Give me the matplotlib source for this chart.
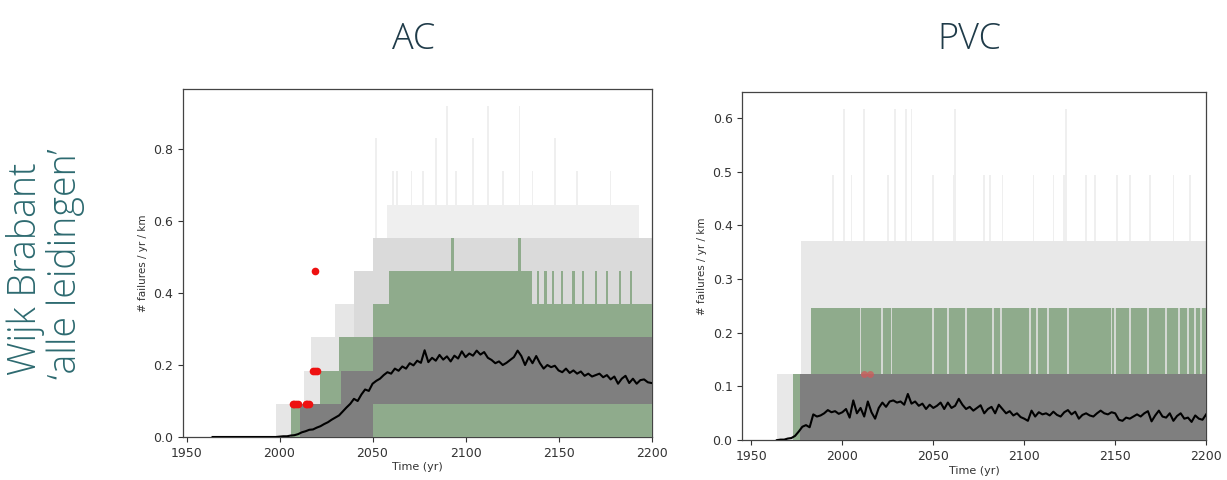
import numpy as np
import matplotlib
matplotlib.use("Agg")
import matplotlib.pyplot as plt

# ---------------- data ----------------
# quantised failure levels
ac_q = 0.0922
pvc_q = 0.1234

# AC mean line (every 2 years, 1964-2200)
ac_mean_years = list(range(1964, 2201, 2))
ac_mean = [0.0] * 18 + [
    0.001, 0.002, 0.002, 0.004, 0.005, 0.008, 0.013, 0.016, 0.020, 0.021,
    0.026, 0.030, 0.036, 0.041, 0.048, 0.054, 0.060, 0.071, 0.082, 0.092,
    0.106, 0.100, 0.118, 0.132, 0.128, 0.148, 0.156, 0.162, 0.172, 0.180,
    0.176, 0.190, 0.184, 0.196, 0.190, 0.205, 0.199, 0.212, 0.206, 0.241,
    0.208, 0.220, 0.212, 0.228, 0.215, 0.224, 0.210, 0.226, 0.218, 0.238,
    0.222, 0.232, 0.226, 0.240, 0.229, 0.236, 0.220, 0.214, 0.205, 0.210,
    0.200, 0.206, 0.214, 0.222, 0.240, 0.225, 0.200, 0.222, 0.205, 0.225,
    0.205, 0.190, 0.200, 0.194, 0.198, 0.185, 0.180, 0.190, 0.178, 0.185,
    0.176, 0.182, 0.170, 0.176, 0.168, 0.172, 0.176, 0.166, 0.172, 0.160,
    0.168, 0.148, 0.162, 0.170, 0.150, 0.162, 0.148, 0.158, 0.160, 0.152,
    0.150]

# PVC mean line (every 2 years, 1964-2200)
pvc_mean_years = list(range(1964, 2201, 2))
pvc_mean = [
    0.000, 0.001, 0.001, 0.003, 0.004, 0.008, 0.016, 0.025, 0.028, 0.024,
    0.048, 0.044, 0.046, 0.050, 0.056, 0.052, 0.054, 0.049, 0.052, 0.058,
    0.042, 0.074, 0.050, 0.060, 0.044, 0.072, 0.052, 0.040, 0.060, 0.070,
    0.062, 0.072, 0.074, 0.070, 0.072, 0.066, 0.086, 0.068, 0.072, 0.064,
    0.068, 0.058, 0.066, 0.060, 0.064, 0.070, 0.058, 0.070, 0.060, 0.064,
    0.077, 0.066, 0.058, 0.062, 0.055, 0.060, 0.065, 0.050, 0.058, 0.062,
    0.050, 0.066, 0.058, 0.050, 0.054, 0.046, 0.050, 0.043, 0.040, 0.036,
    0.055, 0.044, 0.052, 0.048, 0.050, 0.046, 0.053, 0.047, 0.044, 0.052,
    0.056, 0.048, 0.053, 0.040, 0.047, 0.050, 0.046, 0.044, 0.050, 0.055,
    0.050, 0.048, 0.052, 0.050, 0.038, 0.036, 0.042, 0.040, 0.044, 0.048,
    0.044, 0.050, 0.054, 0.035, 0.046, 0.055, 0.044, 0.042, 0.050, 0.036,
    0.045, 0.050, 0.040, 0.042, 0.034, 0.046, 0.040, 0.038, 0.048]

# band envelopes (step changes: start year -> upper value)
ac_faint_years = [2058, 2193]
ac_faint_hi = [0.645, 0.645]
ac_lead_years = [1998, 2013, 2017, 2030, 2040]
ac_lead_hi = [0.092, 0.184, 0.277, 0.369, 0.369]
ac_light_years = [2040, 2050, 2200]
ac_light_hi = [0.461, 0.553, 0.553]
ac_green_years = [2006, 2022, 2032, 2050, 2059, 2136, 2200]
ac_green_hi = [0.092, 0.184, 0.277, 0.369, 0.461, 0.369, 0.369]
ac_iqr_years = [2011, 2033, 2050, 2200]
ac_iqr_lo = [0.0, 0.0, 0.092, 0.092]
ac_iqr_hi = [0.092, 0.184, 0.277, 0.277]
ac_spike_years = [2052, 2061, 2063, 2071, 2077, 2084, 2090, 2095, 2104,
                  2112, 2120, 2129, 2136, 2148, 2160, 2178]
ac_spike_vals = [0.83, 0.74, 0.74, 0.74, 0.74, 0.83, 0.92, 0.74, 0.83,
                 0.92, 0.74, 0.92, 0.74, 0.83, 0.74, 0.74]
ac_green_streak_years = [2139, 2143, 2147, 2152, 2158, 2163, 2170, 2176, 2183, 2189]
ac_green_tall_years = [2093, 2129]
ac_obs_years = [2007, 2008, 2009, 2010, 2014, 2015, 2016, 2018, 2019, 2020, 2019]
ac_obs_vals = [0.092, 0.092, 0.092, 0.092, 0.092, 0.092, 0.092,
               0.184, 0.184, 0.184, 0.461]

pvc_light_years = [1964, 1977, 2200]
pvc_light_hi = [0.123, 0.370, 0.370]
pvc_green_years = [1973, 1982.5, 2200]
pvc_green_hi = [0.123, 0.247, 0.247]
pvc_iqr_years = [1976.5, 2200]
pvc_iqr_hi = [0.123, 0.123]
pvc_gap_years = [2010, 2022, 2027, 2050, 2058, 2068, 2083, 2087, 2103, 2107,
                 2113, 2124, 2148, 2150, 2158, 2168, 2178, 2185, 2190, 2194, 2197]
pvc_spike_years = [2001, 2012, 2029, 2035, 2038, 2062, 2123,
                   1995, 2005, 2025, 2050, 2061, 2078, 2081, 2088, 2105,
                   2116, 2122, 2134, 2139, 2151, 2158, 2169, 2182, 2191]
pvc_spike_vals = [0.617] * 7 + [0.494] * 18
pvc_obs_years = [2012, 2015]
pvc_obs_vals = [0.123, 0.123]

# ---------------- styling ----------------
C_FAINT = "#efefef"
C_LEAD = "#e6e6e6"
C_LIGHT = "#dadada"
C_GREEN = "#8fab8c"
C_GREY = "#7f7f7f"
TXT = "#1f3b49"
TEAL = "#2d6a70"

fig = plt.figure(figsize=(12.27, 4.80), dpi=100)
ax1 = fig.add_axes([0.149, 0.0896, 0.382, 0.725])
ax2 = fig.add_axes([0.605, 0.083, 0.378, 0.725])

# ---------- AC ----------
ax1.bar(ac_spike_years, ac_spike_vals, width=0.9, color=C_FAINT, zorder=1)
ax1.fill_between(ac_faint_years, 0, ac_faint_hi, step="post", color=C_FAINT, lw=0, zorder=1)
ax1.fill_between(ac_lead_years, 0, ac_lead_hi, step="post", color=C_LEAD, lw=0, zorder=2)
ax1.fill_between(ac_light_years, 0, ac_light_hi, step="post", color=C_LIGHT, lw=0, zorder=2)
ax1.fill_between(ac_green_years, 0, ac_green_hi, step="post", color=C_GREEN, lw=0, zorder=3)
ax1.bar(ac_green_streak_years, [ac_q] * len(ac_green_streak_years), bottom=0.369,
        width=1.2, color=C_GREEN, zorder=3)
ax1.bar(ac_green_tall_years, [ac_q] * len(ac_green_tall_years), bottom=0.461,
        width=1.2, color=C_GREEN, zorder=3)
ax1.fill_between(ac_iqr_years, ac_iqr_lo, ac_iqr_hi, step="post", color=C_GREY, lw=0, zorder=4)
ax1.plot(ac_mean_years, ac_mean, color="black", lw=1.5, zorder=6)
ax1.plot(ac_obs_years, ac_obs_vals, "o", color="#ee1111", ms=5.5, mec="none", zorder=7)
ax1.set_xlim(1948, 2200)
ax1.set_ylim(0, 0.967)
ax1.set_yticks([0.0, 0.2, 0.4, 0.6, 0.8])
ax1.set_xticks([1950, 2000, 2050, 2100, 2150, 2200])

# ---------- PVC ----------
ax2.bar(pvc_spike_years, pvc_spike_vals, width=0.9, color=C_FAINT, zorder=1)
ax2.fill_between(pvc_light_years, 0, pvc_light_hi, step="post", color="#e8e8e8", lw=0, zorder=2)
ax2.fill_between(pvc_green_years, 0, pvc_green_hi, step="post", color=C_GREEN, lw=0, zorder=3)
ax2.bar(pvc_gap_years, [pvc_q] * len(pvc_gap_years), bottom=pvc_q, width=1.0,
        color="#d4d8d3", zorder=3.5)
ax2.fill_between(pvc_iqr_years, 0, pvc_iqr_hi, step="post", color=C_GREY, lw=0, zorder=4)
ax2.plot(pvc_obs_years, pvc_obs_vals, "o", color="#d05a5a", alpha=0.75, ms=5, mec="none", zorder=5)
ax2.plot(pvc_mean_years, pvc_mean, color="black", lw=1.5, zorder=6)
ax2.set_xlim(1945, 2200)
ax2.set_ylim(0, 0.648)
ax2.set_yticks([0.0, 0.1, 0.2, 0.3, 0.4, 0.5, 0.6])
ax2.set_xticks([1950, 2000, 2050, 2100, 2150, 2200])

for ax in (ax1, ax2):
    ax.yaxis.set_major_formatter(matplotlib.ticker.FormatStrFormatter("%.1f"))
    ax.tick_params(labelsize=9, colors="#333333", length=3.5, width=0.8)
    for s in ax.spines.values():
        s.set_color("#444444")
        s.set_linewidth(0.9)
    ax.set_xlabel("Time (yr)", fontsize=8, color="#333333", labelpad=2)
    ax.set_ylabel("# failures / yr / km", fontsize=7.5, color="#333333")

# titles and side label
fig.text(0.337, 0.917, "AC", fontsize=26, color=TXT, ha="center", va="center",
         family="Open Sans", fontweight="light")
fig.text(0.790, 0.917, "PVC", fontsize=26, color=TXT, ha="center", va="center",
         family="Open Sans", fontweight="light")
fig.text(0.021, 0.44, "Wijk Brabant", fontsize=27, color=TEAL, rotation=90,
         ha="center", va="center", family="Open Sans", fontweight="light")
fig.text(0.053, 0.45, "\u2018alle leidingen\u2019", fontsize=27, color=TEAL, rotation=90,
         ha="center", va="center", family="Open Sans", fontweight="light")

fig.savefig("out.png", dpi=100, facecolor="white")
